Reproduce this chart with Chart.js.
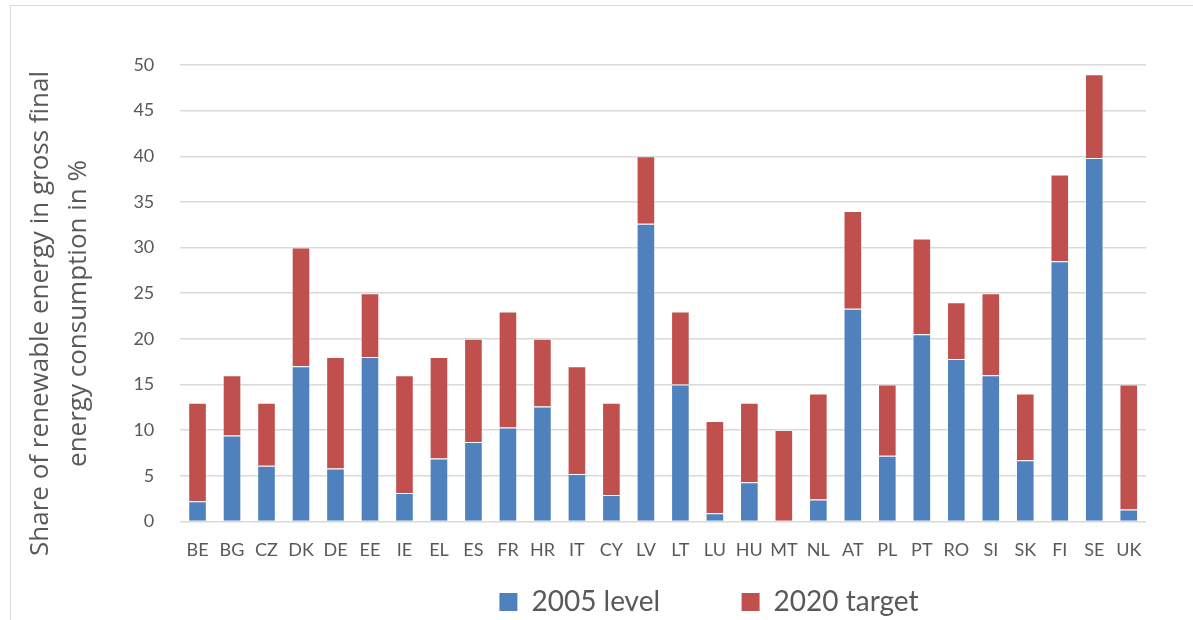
<!DOCTYPE html>
<html>
<head>
<meta charset="utf-8">
<script src="https://cdn.jsdelivr.net/npm/chart.js@4.4.0/dist/chart.umd.min.js"></script>
<style>
  body { margin: 0; background: #fff; overflow: hidden; }
  /* el marco del original solo se ve arriba y a la izquierda */
  #wrap { position: absolute; left: 10px; top: 5px; width: 1200px; height: 630px; border: 1px solid #d9d9d9; box-sizing: border-box; }
  canvas { display: block; }
</style>
</head>
<body>
<div id="wrap"><canvas id="grafica" width="1173" height="610"></canvas></div>
<script>
// Datos
var paises = ['BE','BG','CZ','DK','DE','EE','IE','EL','ES','FR','HR','IT','CY','LV','LT','LU','HU','MT','NL','AT','PL','PT','RO','SI','SK','FI','SE','UK'];
var nivel2005 = [2.2, 9.4, 6.1, 17.0, 5.8, 18.0, 3.1, 6.9, 8.7, 10.3, 12.6, 5.2, 2.9, 32.6, 15.0, 0.9, 4.3, 0.0, 2.4, 23.3, 7.2, 20.5, 17.8, 16.0, 6.7, 28.5, 39.8, 1.3];
var objetivo2020 = [13, 16, 13, 30, 18, 25, 16, 18, 20, 23, 20, 17, 13, 40, 23, 11, 13, 10, 14, 34, 15, 31, 24, 25, 14, 38, 49, 15];
var ticksY = [0, 5, 10, 15, 20, 25, 30, 35, 40, 45, 50];

// La parte roja es lo que falta hasta el objetivo
var diferencia = objetivo2020.map(function(v, i) { return +(v - nivel2005[i]).toFixed(1); });

var fuente = 'Lato, "Open Sans", sans-serif';
var gris = '#595959';
var desplazarLeyenda = 125; // la leyenda no esta centrada en el original

var moverLeyenda = {
  id: 'moverLeyenda',
  afterLayout: function(chart) {
    chart.legend.left += desplazarLeyenda;
    chart.legend.right += desplazarLeyenda;
  }
};

var ctx = document.getElementById('grafica').getContext('2d');
new Chart(ctx, {
  type: 'bar',
  data: {
    labels: paises,
    datasets: [{
      label: '2005 level',
      data: nivel2005,
      backgroundColor: '#4F81BD',
      borderColor: 'rgba(255,255,255,0.35)',
      borderWidth: 1,
      barPercentage: 0.54,
      categoryPercentage: 1
    }, {
      label: '2020 target',
      data: diferencia,
      backgroundColor: '#C0504D',
      borderColor: 'rgba(255,255,255,0.35)',
      borderWidth: 1,
      barPercentage: 0.54,
      categoryPercentage: 1
    }]
  },
  plugins: [moverLeyenda],
  options: {
    responsive: false,
    animation: false,
    layout: { padding: { top: 59, right: 38, left: 11, bottom: -10 } },
    plugins: {
      tooltip: { enabled: false },
      legend: {
        position: 'bottom',
        labels: {
          color: gris,
          font: { family: fuente, size: 28 },
          boxWidth: 18,
          boxHeight: 18,
          padding: 17,
          generateLabels: function(chart) {
            return chart.data.datasets.map(function(ds, i) {
              var txt = i === 0 ? ds.label + '         ' : ds.label;
              return { text: txt, fillStyle: ds.backgroundColor, strokeStyle: ds.backgroundColor, lineWidth: 0, datasetIndex: i, fontColor: gris };
            });
          }
        }
      }
    },
    scales: {
      x: {
        stacked: true,
        grid: { display: false },
        border: { display: false },
        ticks: { color: gris, font: { family: fuente, size: 18 }, padding: 10, maxRotation: 0, autoSkip: false }
      },
      y: {
        stacked: true,
        min: 0,
        max: 50,
        afterBuildTicks: function(axis) { axis.ticks = ticksY.map(function(v) { return { value: v }; }); },
        grid: { color: '#D9D9D9', lineWidth: 1.5, drawTicks: false },
        border: { display: false },
        ticks: { color: gris, font: { family: fuente, size: 18 }, padding: 26 },
        title: {
          display: true,
          // espacios al final para bajar un poco el texto, como en el original
          text: ['Share of renewable energy in gross final      ', 'energy consumption in %      '],
          color: gris,
          font: { family: '"Open Sans", sans-serif', size: 26, lineHeight: 1.45 },
          padding: { top: 0, bottom: 10 }
        }
      }
    }
  }
});
</script>
</body>
</html>
